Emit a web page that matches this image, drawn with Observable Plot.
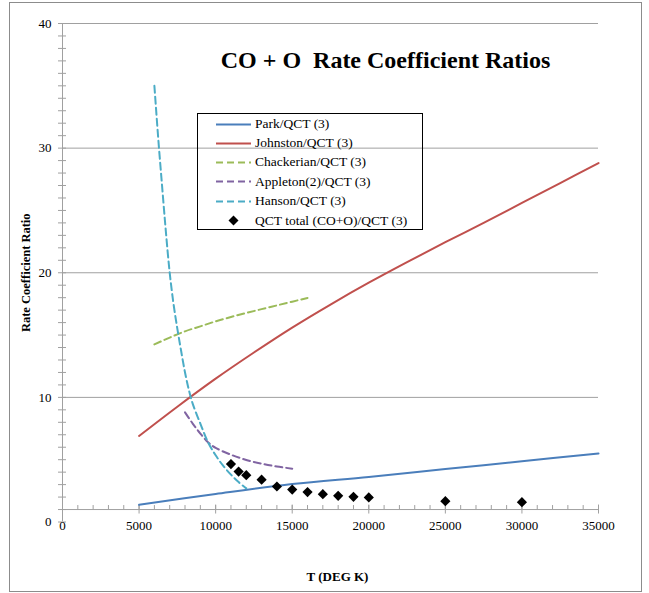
<!DOCTYPE html>
<html><head><meta charset="utf-8">
<script src="https://cdn.jsdelivr.net/npm/d3@7"></script>
<script src="https://cdn.jsdelivr.net/npm/@observablehq/plot@0.6"></script>
<style>
body{margin:0;background:#fff;}
#wrap{position:relative;width:649px;height:593px;font-family:"Liberation Serif",serif;color:#000;}
#border{position:absolute;left:9px;top:2px;width:633px;height:590px;border:1px solid #8c8c8c;box-sizing:border-box;pointer-events:none;}
#legend{position:absolute;left:197px;top:113px;width:226px;height:117px;border:1px solid #000;box-sizing:border-box;}
.row{position:absolute;left:0;height:19px;display:flex;align-items:center;font-size:13.5px;white-space:nowrap;}
.row svg{margin-left:18px;margin-right:4px;}
</style></head>
<body><div id="wrap"><div id="chart"></div><div id="border"></div><div id="legend"></div></div>
<script>
// Data
const parkT = [5000, 10000, 15000, 20000, 25000, 30000, 35000];
const parkR = [1.38, 2.25, 3.05, 3.62, 4.25, 4.87, 5.5];

const johnstonT = [5000, 7500, 10000, 12500, 15000, 17500, 20000, 22500, 25000, 27500, 30000, 32500, 35000];
const johnstonR = [6.9, 9.25, 11.5, 13.6, 15.6, 17.45, 19.2, 20.85, 22.45, 24.0, 25.6, 27.2, 28.8];

const chackT = [6000, 7000, 8000, 9000, 10000, 11000, 12000, 13000, 14000, 15000, 16000];
const chackR = [14.25, 14.8, 15.3, 15.7, 16.1, 16.45, 16.77, 17.08, 17.38, 17.68, 17.98];

const appletonT = [8000, 8500, 9000, 9500, 10000, 11000, 12000, 13000, 14000, 15000];
const appletonR = [8.8, 7.9, 7.1, 6.4, 5.95, 5.4, 4.98, 4.68, 4.45, 4.28];

const hansonT = [6000, 6250, 6500, 6750, 7000, 7250, 7500, 7750, 8000, 8250, 8500, 9000, 9500, 10000, 10500, 11000, 11500, 12000];
const hansonR = [35, 30.8, 27.0, 23.3, 20.0, 17.5, 15.5, 13.7, 12.0, 10.6, 9.5, 7.9, 6.4, 5.35, 4.5, 3.8, 3.2, 2.7];

const qctT = [11000, 11500, 12000, 13000, 14000, 15000, 16000, 17000, 18000, 19000, 20000, 25000, 30000];
const qctR = [4.65, 4.05, 3.76, 3.4, 2.85, 2.6, 2.4, 2.23, 2.1, 2.02, 1.97, 1.67, 1.59];

const seriesNames = ["Park/QCT (3)", "Johnston/QCT (3)", "Chackerian/QCT (3)", "Appleton(2)/QCT (3)", "Hanson/QCT (3)", "QCT total (CO+O)/QCT (3)"];
const seriesColors = ["#4a7ebb", "#c0504d", "#9bbb59", "#8064a2", "#4bacc6", "#000000"];

const xTicks = [0, 5000, 10000, 15000, 20000, 25000, 30000, 35000];
const yTicks = [0, 10, 20, 30, 40];
const yGrid = [10, 20, 30, 40];
const xMinor = d3.range(0, 35001, 1000);
const yMinor = d3.range(0, 41, 1);

const title = "CO + O  Rate Coefficient Ratios";
const xLabel = "T (DEG K)";
const yLabel = "Rate Coefficient Ratio";

const toRows = (T, R) => T.map((t, i) => ({t, r: R[i]}));
const park = toRows(parkT, parkR);
const johnston = toRows(johnstonT, johnstonR);
const chack = toRows(chackT, chackR);
const appleton = toRows(appletonT, appletonR);
const hanson = toRows(hansonT, hansonR);
const qct = toRows(qctT, qctR);

const axisGray = "#a0a0a0";
const dash = "7,4";

const chart = Plot.plot({
  width: 649, height: 593,
  marginTop: 23, marginBottom: 71.5, marginLeft: 62, marginRight: 51,
  style: {fontFamily: "Liberation Serif", fontSize: "13px", color: "#000", background: "transparent"},
  x: {domain: [0, 35000]},
  y: {domain: [0, 40]},
  marks: [
    Plot.ruleY(yGrid, {x1: 0, x2: 35000, stroke: axisGray, strokeWidth: 1}),
    Plot.ruleX([0], {y1: 0, y2: 40, stroke: axisGray}),
    Plot.ruleY(yMinor, {x1: 0, x2: 0, insetLeft: -4, insetRight: -4, stroke: axisGray}),
    Plot.ruleY([1], {x1: 0, x2: 35000, stroke: axisGray}),
    Plot.ruleX(xMinor, {y1: 1, y2: 1, insetTop: -4, stroke: axisGray}),
    Plot.ruleX(xTicks, {y1: 1, y2: 1, insetTop: -4.5, insetBottom: -4.5, stroke: axisGray}),
    Plot.axisY({ticks: yTicks, tickSize: 0, tickPadding: 11, label: null, tickFormat: d => String(d)}),
    Plot.axisX({ticks: xTicks, tickSize: 0, tickPadding: -1, label: null, tickFormat: d => String(d)}),
    Plot.line(park, {x: "t", y: "r", stroke: seriesColors[0], strokeWidth: 2, curve: "catmull-rom"}),
    Plot.line(johnston, {x: "t", y: "r", stroke: seriesColors[1], strokeWidth: 2, curve: "catmull-rom"}),
    Plot.line(chack, {x: "t", y: "r", stroke: seriesColors[2], strokeWidth: 2, strokeDasharray: dash, curve: "catmull-rom"}),
    Plot.line(appleton, {x: "t", y: "r", stroke: seriesColors[3], strokeWidth: 2, strokeDasharray: dash, curve: "catmull-rom"}),
    Plot.line(hanson, {x: "t", y: "r", stroke: seriesColors[4], strokeWidth: 2, strokeDasharray: dash, curve: "catmull-rom"}),
    Plot.dot(qct, {x: "t", y: "r", symbol: "diamond2", r: 4.6, fill: "#000", stroke: "none"}),
    Plot.text([title], {frameAnchor: "top", lineAnchor: "middle", dx: 55, dy: 37, fontSize: 24, fontWeight: "bold"}),
    Plot.text([yLabel], {frameAnchor: "left", textAnchor: "middle", lineAnchor: "middle", rotate: -90, dx: -37, fontSize: 12.5, fontWeight: "bold"}),
    Plot.text([xLabel], {frameAnchor: "bottom", textAnchor: "middle", lineAnchor: "middle", dx: 7, dy: 55, fontSize: 13, fontWeight: "bold"})
  ]
});
document.getElementById("chart").appendChild(chart);

// Legend
const legend = document.getElementById("legend");
const rowCenters = [11, 30, 49.3, 68.7, 88.3, 107.7];
seriesNames.forEach((name, i) => {
  const row = document.createElement("div");
  row.className = "row";
  row.style.top = (rowCenters[i] - 9.5 - 1) + "px";
  let sw;
  if (i < 5) {
    const dashed = i >= 2 ? ` stroke-dasharray="7,4"` : "";
    sw = `<svg width="35" height="19"><line x1="0" x2="35" y1="9.5" y2="9.5" stroke="${seriesColors[i]}" stroke-width="2"${dashed}/></svg>`;
  } else {
    sw = `<svg width="35" height="19"><path d="M17.5,4.5L22.5,9.5L17.5,14.5L12.5,9.5Z" fill="#000"/></svg>`;
  }
  row.innerHTML = sw + `<span>${name}</span>`;
  legend.appendChild(row);
});
</script>
</body></html>
